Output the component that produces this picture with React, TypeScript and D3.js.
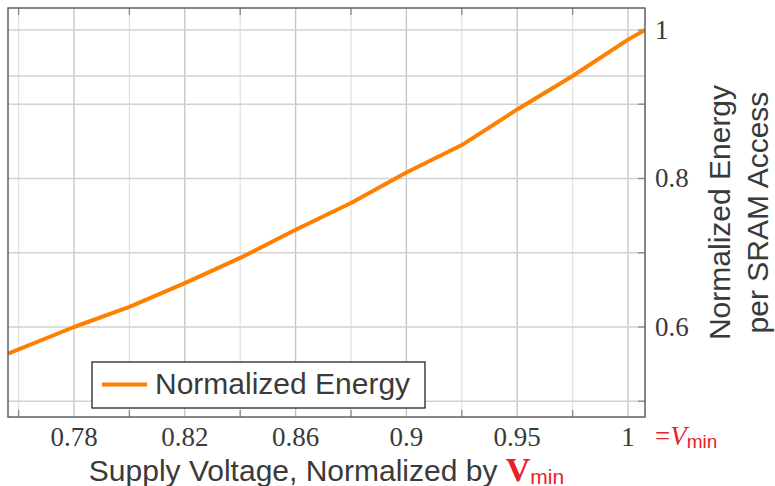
import { useEffect, useRef } from 'react';
import * as d3 from 'd3';

// x axis: labelled ticks are evenly spaced on the page, so the scale is piecewise
const xTickValues = [0.78, 0.82, 0.86, 0.9, 0.95, 1];
const xTickLabels = ['0.78', '0.82', '0.86', '0.9', '0.95', '1'];
const xMinorValues = [0.76, 0.8, 0.84, 0.88, 0.925, 0.975];

const yTickValues = [0.6, 0.8, 1];
const yTickLabels = ['0.6', '0.8', '1'];
const yGridValues = [0.5, 0.6, 0.7, 0.8, 0.9, 1];
const yExtraGrid = [0.938];

// Normalized supply voltage vs normalized energy per SRAM access
const voltage = [0.7562, 0.78, 0.8, 0.82, 0.84, 0.86, 0.88, 0.9, 0.925, 0.95, 0.975, 1.0, 1.0077];
const energy = [0.564, 0.6, 0.627, 0.659, 0.693, 0.731, 0.767, 0.808, 0.845, 0.893, 0.938, 0.987, 1.0];

const ORANGE = '#ff8000';
const RED = '#e8202a';
const TEXT = '#3a3a3a';
const SERIF = "'Liberation Serif', 'DejaVu Serif', serif";
const SANS = "'Liberation Sans', Arial, sans-serif";

const App = () => {
  const svgRef = useRef<SVGSVGElement>(null);

  useEffect(() => {
    const width = 775;
    const height = 486;
    const left = 8;
    const right = 645;
    const top = 8;
    const bottom = 417;

    const svg = d3.select(svgRef.current);
    svg.selectAll('*').remove();
    svg.attr('width', width).attr('height', height);

    // Scales
    const firstTick = left + 66;
    const step = 110.8;
    const x = d3.scaleLinear()
      .domain(xTickValues)
      .range(xTickValues.map((_, i) => firstTick + i * step));

    const y = d3.scaleLinear()
      .domain([0.4788, 1.0296])
      .range([bottom, top]);

    svg.append('rect')
      .attr('x', left).attr('y', top)
      .attr('width', right - left).attr('height', bottom - top)
      .attr('fill', '#fff');

    // Grid
    const grid = svg.append('g');
    grid.selectAll('.minor-x')
      .data(xMinorValues)
      .enter()
      .append('line')
      .attr('x1', d => x(d)).attr('x2', d => x(d))
      .attr('y1', top).attr('y2', bottom)
      .attr('stroke', '#e2e2e2')
      .attr('stroke-width', 1.3);

    grid.selectAll('.major-x')
      .data(xTickValues)
      .enter()
      .append('line')
      .attr('x1', d => x(d)).attr('x2', d => x(d))
      .attr('y1', top).attr('y2', bottom)
      .attr('stroke', '#c4c4c4')
      .attr('stroke-width', 1.3);

    grid.selectAll('.grid-y')
      .data(yGridValues.concat(yExtraGrid))
      .enter()
      .append('line')
      .attr('x1', left).attr('x2', right)
      .attr('y1', d => y(d)).attr('y2', d => y(d))
      .attr('stroke', '#d2d2d2')
      .attr('stroke-width', 1.5);

    // Tick marks
    const ticks = svg.append('g').attr('stroke', '#8a8a8a').attr('stroke-width', 1.3);
    xMinorValues.forEach(v => {
      ticks.append('line')
        .attr('x1', x(v)).attr('x2', x(v))
        .attr('y1', top).attr('y2', top + 7);
      ticks.append('line')
        .attr('x1', x(v)).attr('x2', x(v))
        .attr('y1', bottom).attr('y2', bottom - 7);
    });
    yGridValues.forEach(v => {
      ticks.append('line')
        .attr('x1', right).attr('x2', right - 7)
        .attr('y1', y(v)).attr('y2', y(v));
    });

    // Line
    svg.append('clipPath').attr('id', 'plot-clip')
      .append('rect')
      .attr('x', left).attr('y', top)
      .attr('width', right - left).attr('height', bottom - top);

    const line = d3.line<number>()
      .x((_, i) => x(voltage[i]))
      .y(d => y(d));

    svg.append('path')
      .datum(energy)
      .attr('clip-path', 'url(#plot-clip)')
      .attr('fill', 'none')
      .attr('stroke', ORANGE)
      .attr('stroke-width', 4)
      .attr('stroke-linejoin', 'round')
      .attr('d', line);

    // Frame
    svg.append('rect')
      .attr('x', left).attr('y', top)
      .attr('width', right - left).attr('height', bottom - top)
      .attr('fill', 'none')
      .attr('stroke', '#555')
      .attr('stroke-width', 1.4);

    // X tick labels
    svg.selectAll('.xlabel')
      .data(xTickValues)
      .enter()
      .append('text')
      .attr('x', d => x(d))
      .attr('y', 446)
      .attr('text-anchor', 'middle')
      .style('font-family', SERIF)
      .attr('font-size', 27)
      .attr('fill', TEXT)
      .text((_, i) => xTickLabels[i]);

    // Y tick labels (right side)
    svg.selectAll('.ylabel')
      .data(yTickValues)
      .enter()
      .append('text')
      .attr('x', right + 10)
      .attr('y', d => y(d))
      .attr('dy', '0.33em')
      .style('font-family', SERIF)
      .attr('font-size', 27)
      .attr('fill', TEXT)
      .text((_, i) => yTickLabels[i]);

    // "=Vmin" marker next to the 1 label
    const vm = svg.append('text')
      .attr('x', 655)
      .attr('y', 445)
      .attr('fill', RED)
      .style('font-family', SERIF)
      .attr('font-size', 27);
    vm.append('tspan').text('=');
    vm.append('tspan').attr('font-style', 'italic').text('V');
    vm.append('tspan')
      .style('font-family', SANS)
      .attr('font-size', 19)
      .attr('dy', 3)
      .text('min');

    // X axis title
    const xt = svg.append('text')
      .attr('x', (left + right) / 2)
      .attr('y', 481)
      .attr('text-anchor', 'middle')
      .style('font-family', SANS)
      .attr('font-size', 30)
      .attr('fill', TEXT);
    xt.append('tspan').text('Supply Voltage, Normalized by ');
    xt.append('tspan')
      .style('font-family', SERIF)
      .attr('font-weight', 'bold')
      .attr('font-size', 34)
      .attr('fill', RED)
      .text('V');
    xt.append('tspan')
      .attr('font-size', 21)
      .attr('dy', 3)
      .attr('fill', RED)
      .text('min');

    // Y axis title (two lines, rotated)
    const cy = (top + bottom) / 2;
    ['Normalized Energy', 'per SRAM Access'].forEach((t, i) => {
      svg.append('text')
        .attr('transform', `translate(${730 + i * 38},${cy}) rotate(-90)`)
        .attr('text-anchor', 'middle')
        .style('font-family', SANS)
        .attr('font-size', 30)
        .attr('fill', TEXT)
        .text(t);
    });

    // Legend
    const lg = svg.append('g');
    lg.append('rect')
      .attr('x', 92).attr('y', 362)
      .attr('width', 333).attr('height', 46)
      .attr('fill', '#fff')
      .attr('stroke', '#111')
      .attr('stroke-width', 1.2);
    lg.append('line')
      .attr('x1', 102).attr('x2', 147)
      .attr('y1', 384.5).attr('y2', 384.5)
      .attr('stroke', ORANGE)
      .attr('stroke-width', 4);
    lg.append('text')
      .attr('x', 155)
      .attr('y', 394)
      .style('font-family', SANS)
      .attr('font-size', 30)
      .attr('fill', TEXT)
      .text('Normalized Energy');
  }, []);

  return <svg ref={svgRef} style={{ position: 'absolute', left: 0, top: 0 }}></svg>;
};

export default App;
